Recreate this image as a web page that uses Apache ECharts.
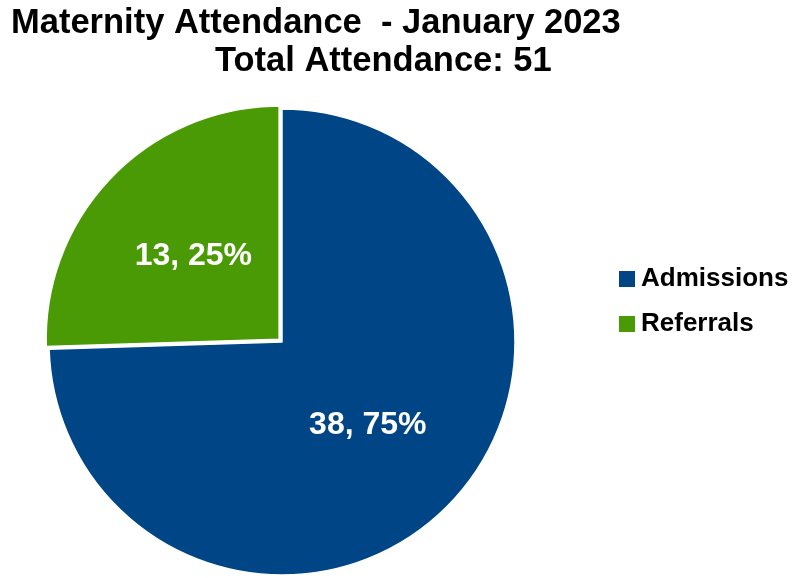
<!DOCTYPE html>
<html>
<head>
<meta charset="utf-8">
<script src="https://cdn.jsdelivr.net/npm/echarts@6/dist/echarts.min.js"></script>
<style>
html,body{margin:0;padding:0;background:#fff;}
#chart{width:797px;height:578px;}
</style>
</head>
<body>
<div id="chart"></div>
<script>
var titleLine1 = 'Maternity Attendance  - January 2023';
var titleLine2 = 'Total Attendance: 51';
var categories = ['Admissions', 'Referrals'];
var values = [38, 13];
var colors = ['#004586', '#4A9A06'];

var FONT = '"Liberation Sans", Arial, sans-serif';
var chart = echarts.init(document.getElementById('chart'));
chart.setOption({
  animation: false,
  backgroundColor: '#ffffff',
  title: [
    { text: titleLine1, left: 11, top: 6, padding: 0,
      textStyle: { fontFamily: FONT, fontSize: 34.5, fontWeight: 'bold', color: '#000' } },
    { text: titleLine2, left: 215, top: 44, padding: 0,
      textStyle: { fontFamily: FONT, fontSize: 34.5, fontWeight: 'bold', color: '#000' } }
  ],
  legend: {
    orient: 'vertical',
    left: 617,
    top: 266,
    padding: 0,
    itemWidth: 18,
    itemHeight: 18,
    itemGap: 19,
    icon: 'rect',
    selectedMode: false,
    data: categories,
    textStyle: { fontFamily: FONT, fontSize: 26, fontWeight: 'bold', color: '#000', padding: [0, 0, 0, 0] }
  },
  series: [{
    type: 'pie',
    center: [282, 342],
    radius: 233,
    startAngle: 90,
    clockwise: true,
    selectedMode: 'single',
    selectedOffset: 4,
    label: {
      show: true,
      position: 'inside',
      formatter: function (p) { return p.value + ', ' + Math.round(p.percent) + '%'; },
      fontFamily: FONT,
      fontSize: 32,
      fontWeight: 'bold',
      color: '#ffffff'
    },
    labelLine: { show: false },
    itemStyle: { borderColor: '#ffffff', borderWidth: 1.5 },
    emphasis: { disabled: true },
    data: categories.map(function (c, i) {
      return { name: c, value: values[i], selected: i === 1, itemStyle: { color: colors[i] } };
    })
  }]
});
</script>
</body>
</html>
